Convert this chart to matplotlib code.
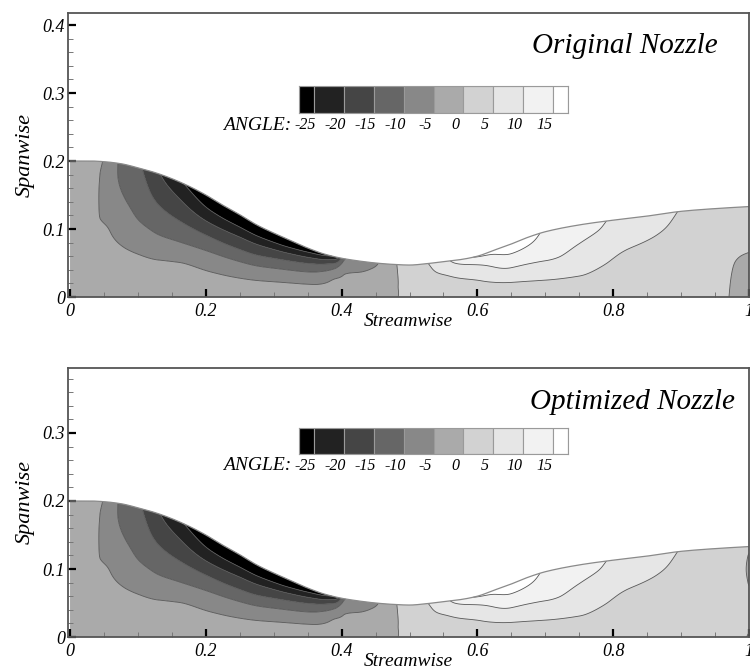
import numpy as np
import matplotlib
matplotlib.use("Agg")
import matplotlib.pyplot as plt
from matplotlib.ticker import MultipleLocator, FuncFormatter

plt.rcParams['font.family'] = ['Liberation Serif', 'DejaVu Serif']
plt.rcParams['font.style'] = 'italic'

# ---------------- data ----------------
# nozzle wall (spanwise half-height) vs streamwise position
wall_x = [0.0, 0.03, 0.05, 0.075, 0.1, 0.125, 0.15, 0.175, 0.2, 0.225, 0.25, 0.275,
          0.3, 0.325, 0.35, 0.375, 0.4, 0.425, 0.45, 0.475, 0.5, 0.525, 0.55,
          0.575, 0.6, 0.625, 0.65, 0.675, 0.7, 0.75, 0.8, 0.85, 0.9, 0.95, 1.0]
wall_y = [0.2, 0.2, 0.199, 0.196, 0.19, 0.183, 0.174, 0.163, 0.15, 0.135, 0.121, 0.106,
          0.094, 0.083, 0.072, 0.063, 0.057, 0.053, 0.05, 0.048, 0.047, 0.049, 0.052,
          0.055, 0.06, 0.069, 0.078, 0.088, 0.096, 0.106, 0.113, 0.119, 0.126, 0.130, 0.133]

# normalised spanwise stations (y / wall)
eta_nodes = [0.0, 0.15, 0.3, 0.45, 0.6, 0.75, 0.9, 1.0]

# flow angle (deg) at streamwise stations, columns follow eta_nodes
angle_x = [0.0, 0.03, 0.045, 0.06, 0.08, 0.1, 0.13, 0.16, 0.21, 0.26, 0.31, 0.36,
           0.39, 0.405, 0.43, 0.45, 0.47, 0.5, 0.53, 0.56, 0.6, 0.65, 0.7, 0.75,
           0.8, 0.85, 0.9, 0.95]
angle_common = [
    [-1, -1, -1, -1, -1, -1, -1, -1],
    [-1.5, -1.5, -2, -2, -2.5, -2.5, -2.5, -2.5],
    [-2, -2.5, -3, -3.5, -5.2, -5.5, -5.2, -4.5],
    [-2, -2.8, -3.6, -4.8, -6, -7.5, -8, -7.5],
    [-2, -3, -4.2, -6, -8, -10, -11.5, -12],
    [-2, -3.3, -4.6, -7, -10, -11.9, -13.2, -14],
    [-2, -3.5, -5, -8.75, -12, -15, -17.7, -19.5],
    [-2, -3.5, -5, -9.2, -13.3, -17.25, -21.1, -24],
    [-2, -3.67, -5.83, -10, -15, -20.4, -26.1, -29],
    [-2, -3.8, -6.4, -10.7, -15.8, -20.8, -27, -30],
    [-2, -3.7, -6, -9.75, -14.4, -20, -26.6, -29.5],
    [-2, -3.6, -5.4, -8.1, -11.5, -16.25, -23.3, -28],
    [-2, -3, -4, -5, -7.8, -11.2, -18.1, -24],
    [-2, -2.7, -3.4, -4.2, -5, -6.3, -8.5, -10.2],
    [-1.8, -2.3, -2.9, -3.6, -4.3, -5.3, -6.3, -7],
    [-1.5, -1.8, -2.2, -2.8, -3.5, -4.2, -5, -5.5],
    [-0.8, -1, -1.2, -1.5, -1.8, -2, -2.2, -2.3],
    [1, 1.2, 1.5, 1.8, 2.2, 2.6, 3, 3.3],
    [2, 2.3, 2.7, 3.2, 3.8, 4.4, 4.9, 5.2],
    [2.5, 3, 3.6, 4.3, 5.2, 7, 9, 10],
    [3, 3.6, 4.3, 5.3, 7, 9.3, 12.3, 15.5],
    [3, 3.8, 5.3, 7.8, 11, 13.8, 16.3, 17.5],
    [3, 3.9, 5.5, 7.6, 10.9, 12.8, 14, 14.5],
    [2.8, 3.6, 5.1, 6.8, 8.4, 10.1, 11.5, 12],
    [2.6, 3, 3.6, 4.7, 5.6, 7.5, 9, 9.5],
    [2.4, 2.7, 3.1, 3.6, 4.3, 5.4, 6.5, 7],
    [2.2, 2.5, 2.8, 3.2, 3.6, 4.1, 4.5, 4.8],
    [1.8, 2, 2.2, 2.4, 2.7, 3, 3.2, 3.3],
]
# outlet stations differ between the two nozzles
original_end_x = [0.98, 1.0]
original_end = [
    [-0.8, -0.6, -0.3, 0.2, 1, 1.8, 2.3, 2.5],
    [-1.5, -1.3, -1, -0.3, 0.8, 1.5, 2, 2.2],
]
optimized_end_x = [0.98, 0.99, 1.0]
optimized_end = [
    [1.2, 1.6, 1.9, 2.1, 2.2, 2.2, 2.3, 2.5],
    [0.8, 1.4, 1.8, 2.0, 1.6, 1.2, 1.6, 2.3],
    [-0.5, 1.0, 1.5, 1.2, -0.3, -1.0, -0.3, 1.5],
]

levels = [-25, -20, -15, -10, -5, 0, 5, 10, 15]
grays = ['#000000', '#222222', '#454545', '#666666', '#888888', '#aaaaaa',
         '#d2d2d2', '#e6e6e6', '#f2f2f2', '#ffffff']
panel_titles = ['Original Nozzle', 'Optimized Nozzle']


# ---------------- helpers ----------------
def pchip(xk, yk, xq):
    xk = np.asarray(xk, float)
    yk = np.asarray(yk, float)
    xq = np.asarray(xq, float)
    h = np.diff(xk)
    d = np.diff(yk) / h
    m = np.zeros_like(yk)
    m[0] = d[0]
    m[-1] = d[-1]
    for k in range(1, len(xk) - 1):
        if d[k - 1] * d[k] > 0:
            w1 = 2 * h[k] + h[k - 1]
            w2 = h[k] + 2 * h[k - 1]
            m[k] = (w1 + w2) / (w1 / d[k - 1] + w2 / d[k])
    idx = np.clip(np.searchsorted(xk, xq) - 1, 0, len(xk) - 2)
    t = (xq - xk[idx]) / h[idx]
    h00 = 2 * t**3 - 3 * t**2 + 1
    h10 = t**3 - 2 * t**2 + t
    h01 = -2 * t**3 + 3 * t**2
    h11 = t**3 - t**2
    return (h00 * yk[idx] + h10 * h[idx] * m[idx]
            + h01 * yk[idx + 1] + h11 * h[idx] * m[idx + 1])


x_f = np.linspace(0.0, 1.0, 700)
eta_f = np.linspace(0.0, 1.0, 220)
wall_f = pchip(wall_x, wall_y, x_f)
X = np.repeat(x_f[:, None], len(eta_f), axis=1)
Y = eta_f[None, :] * wall_f[:, None]


def build_field(xs, table):
    T = np.asarray(table, float)
    A = np.array([pchip(eta_nodes, row, eta_f) for row in T])
    Z = np.array([pchip(xs, A[:, j], x_f) for j in range(len(eta_f))]).T
    return Z


fields = [
    build_field(angle_x + original_end_x, angle_common + original_end),
    build_field(angle_x + optimized_end_x, angle_common + optimized_end),
]

# ---------------- figure ----------------
W, H = 750, 671
fig = plt.figure(figsize=(W / 100, H / 100), dpi=100)

# axes boxes in pixels: (left, top, right, bottom)
boxes = [(68, 13, 749, 297), (68, 368, 749, 637)]
legend_boxes = [(299, 86, 568, 113), (299, 428, 568, 454)]
title_pos = [(0.954, 0.859), (0.979, 0.848)]
fill_levels = [-1000] + levels + [1000]


def fmt(v, pos):
    s = f"{v:.1f}".rstrip('0').rstrip('.')
    return '0' if s in ('-0', '0') else s


for i in range(2):
    l, t, r, b = boxes[i]
    ax = fig.add_axes([l / W, 1 - b / H, (r - l) / W, (b - t) / H])
    ax.contourf(X, Y, fields[i], levels=fill_levels, colors=grays, antialiased=True)
    ax.contour(X, Y, fields[i], levels=levels, colors='#555555', linewidths=0.6,
               linestyles='solid')
    ax.plot(x_f, wall_f, color='#8a8a8a', lw=0.9)
    ax.set_xlim(-0.003, 1.0)
    ax.set_ylim(0, (b - t) / 680.0)

    ax.xaxis.set_major_locator(MultipleLocator(0.2))
    ax.xaxis.set_minor_locator(MultipleLocator(0.05))
    ax.yaxis.set_major_locator(MultipleLocator(0.1))
    ax.yaxis.set_minor_locator(MultipleLocator(0.02))
    ax.xaxis.set_major_formatter(FuncFormatter(fmt))
    ax.yaxis.set_major_formatter(FuncFormatter(fmt))
    ax.tick_params(which='major', direction='in', length=6, width=1.6,
                   color='black', labelsize=13, top=False, right=False)
    ax.tick_params(axis='x', which='major', pad=4)
    ax.tick_params(axis='y', which='major', pad=2)
    ax.tick_params(which='minor', direction='in', length=3.5, width=0.7,
                   color='#777777', top=False, right=False)
    for sp in ax.spines.values():
        sp.set_color('#555555')
        sp.set_linewidth(1.3)
    ax.set_xlabel('Streamwise', fontsize=14, labelpad=-5)
    ax.set_ylabel('Spanwise', fontsize=16, labelpad=6)

    tx, ty = title_pos[i]
    ax.text(tx, ty, panel_titles[i], transform=ax.transAxes, ha='right',
            va='baseline', fontsize=21)

    # contour legend
    ll, lt, lr, lb = legend_boxes[i]
    lax = fig.add_axes([ll / W, 1 - lb / H, (lr - ll) / W, (lb - lt) / H])
    edges = [0.0] + [k + 0.5 for k in range(len(levels))] + [len(levels)]
    for k in range(len(grays)):
        lax.axvspan(edges[k], edges[k + 1], facecolor=grays[k],
                    edgecolor='#9a9a9a', lw=0.8)
    lax.set_xlim(0, len(levels))
    lax.set_ylim(0, 1)
    lax.set_xticks([])
    lax.set_yticks([])
    for sp in lax.spines.values():
        sp.set_color('#9a9a9a')
        sp.set_linewidth(0.8)
    for k, lev in enumerate(levels):
        lax.text(k + 0.22, -0.45, f"{lev}", ha='center', va='center',
                 fontsize=11.5)
    lax.text(-0.25, -0.45, 'ANGLE:', ha='right', va='center', fontsize=14)

fig.savefig('out.png', dpi=100)
